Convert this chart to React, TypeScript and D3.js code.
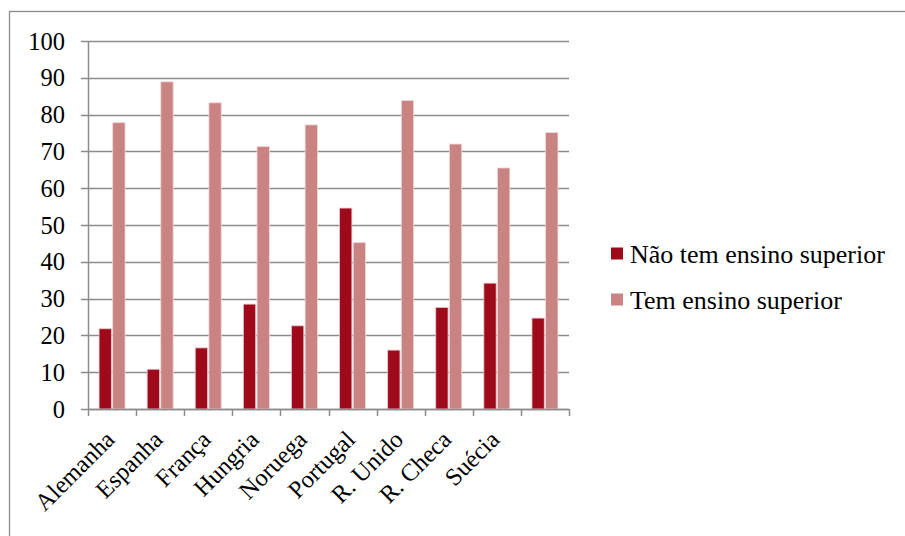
import React, { useEffect, useRef } from 'react';
import * as d3 from 'd3';

const categories = ['Alemanha', 'Espanha', 'França', 'Hungria', 'Noruega', 'Portugal', 'R. Unido', 'R. Checa', 'Suécia', ''];
const semEnsino = [21.8, 10.8, 16.6, 28.5, 22.6, 54.6, 16.0, 27.6, 34.2, 24.7];
const comEnsino = [77.8, 88.9, 83.2, 71.3, 77.2, 45.2, 83.8, 72.0, 65.5, 75.1];
const seriesNames = ['Não tem ensino superior', 'Tem ensino superior'];
const seriesColors = ['#9f0a1b', '#c98383'];
const yTicks = [0, 10, 20, 30, 40, 50, 60, 70, 80, 90, 100];

export default function App() {
  const svgRef = useRef<SVGSVGElement | null>(null);
  const width = 905;
  const height = 536;

  useEffect(() => {
    const svg = d3.select(svgRef.current);
    svg.selectAll('*').remove();

    const gray = '#8c8c8c';

    // outer chart border
    svg.append('rect')
      .attr('x', 9.5).attr('y', 11.5)
      .attr('width', 920).attr('height', 540)
      .attr('fill', 'white').attr('stroke', gray).attr('stroke-width', 1.3);

    const left = 88, right = 569, top = 41, bottom = 409;
    const x0 = d3.scaleBand<string>().domain(categories.map((c, i) => c + '#' + i)).range([left, right]).padding(0);
    const key = (i: number) => categories[i] + '#' + i;
    const bw = x0.bandwidth();
    const x1 = d3.scaleBand<number>().domain([0, 1]).range([bw * 0.23, bw * 0.77]).paddingInner(0.1);
    const y = d3.scaleLinear().domain([0, 100]).range([bottom, top]);

    // gridlines
    svg.append('g').selectAll('line').data(yTicks).enter().append('line')
      .attr('x1', left - 7).attr('x2', right)
      .attr('y1', d => Math.round(y(d)) + 0.5).attr('y2', d => Math.round(y(d)) + 0.5)
      .attr('stroke', gray).attr('stroke-width', 1.5);

    // y axis line
    svg.append('line')
      .attr('x1', left + 0.5).attr('x2', left + 0.5)
      .attr('y1', top).attr('y2', bottom)
      .attr('stroke', gray).attr('stroke-width', 1.5);

    // x ticks at category boundaries
    const bounds = d3.range(categories.length + 1).map(i => left + i * bw);
    svg.append('g').selectAll('line').data(bounds).enter().append('line')
      .attr('x1', d => Math.round(d) + 0.5).attr('x2', d => Math.round(d) + 0.5)
      .attr('y1', bottom).attr('y2', bottom + 7)
      .attr('stroke', gray).attr('stroke-width', 1.5);

    // y tick labels
    svg.append('g').selectAll('text').data(yTicks).enter().append('text')
      .attr('x', 65).attr('y', d => y(d))
      .attr('dy', '0.35em')
      .attr('text-anchor', 'end')
      .attr('font-size', 24.5).attr('fill', '#000')
      .text(d => d);

    // bars
    const seriesData = [semEnsino, comEnsino];
    seriesData.forEach((vals, s) => {
      svg.append('g').selectAll('rect').data(vals).enter().append('rect')
        .attr('x', (_, i) => (x0(key(i)) as number) + (x1(s) as number))
        .attr('y', d => y(d))
        .attr('width', x1.bandwidth())
        .attr('height', d => bottom - y(d))
        .attr('fill', seriesColors[s])
        .attr('stroke', s === 0 ? '#e8c4c8' : '#f0d6d6')
        .attr('stroke-width', 0.8);
    });

    // redraw baseline over bars
    svg.append('line')
      .attr('x1', left).attr('x2', right)
      .attr('y1', bottom + 0.5).attr('y2', bottom + 0.5)
      .attr('stroke', gray).attr('stroke-width', 1.5);

    // category labels (rotated, end anchored under the category centre)
    svg.append('g').selectAll('text').data(categories).enter().append('text')
      .attr('transform', (d, i) => `translate(${(x0(key(i)) as number) + bw / 2 + 4},${441}) rotate(-45)`)
      .attr('text-anchor', 'end')
      .attr('font-size', 24.5).attr('fill', '#000')
      .text(d => d);

    // legend
    const legend = svg.append('g');
    seriesNames.forEach((name, i) => {
      const ly = 253.5 + i * 46;
      legend.append('rect')
        .attr('x', 611).attr('y', ly - 6)
        .attr('width', 12).attr('height', 12)
        .attr('fill', seriesColors[i]);
      legend.append('text')
        .attr('x', 630).attr('y', ly)
        .attr('dy', '0.35em')
        .attr('font-size', 26).attr('fill', '#000')
        .text(name);
    });
  }, []);

  return (
    <svg
      ref={svgRef}
      width={width}
      height={height}
      style={{ position: 'absolute', left: 0, top: 0, background: 'white', fontFamily: "'Liberation Serif', 'Times New Roman', Times, serif" }}
    />
  );
}
